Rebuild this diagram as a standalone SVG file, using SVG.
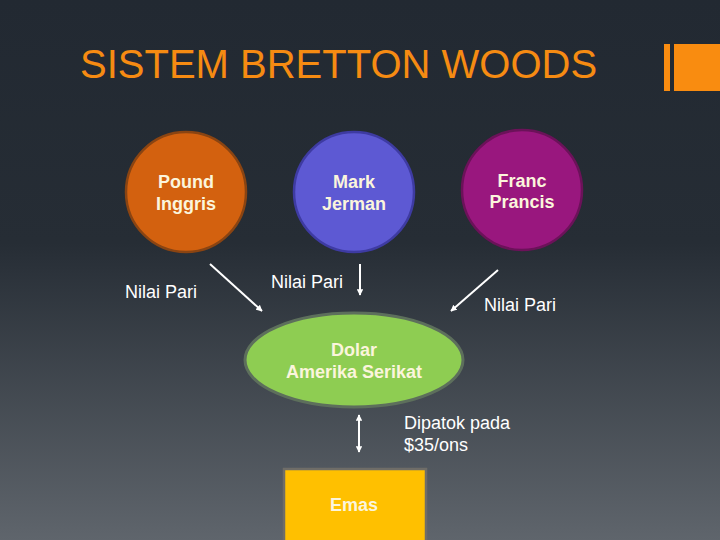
<svg xmlns="http://www.w3.org/2000/svg" width="720" height="540" viewBox="0 0 720 540">
<defs>
<linearGradient id="bg" x1="0" y1="0" x2="0" y2="1">
<stop offset="0" stop-color="#222932"/>
<stop offset="0.45" stop-color="#262d35"/>
<stop offset="1" stop-color="#5f656c"/>
</linearGradient>
<marker id="ah" viewBox="0 0 10 10" refX="9" refY="5" markerWidth="3.2" markerHeight="3.2" orient="auto-start-reverse">
<path d="M0,0 L10,5 L0,10 z" fill="#ffffff"/>
</marker>
<style>
.node{font-family:"Liberation Sans",Arial,sans-serif;font-weight:bold;font-size:18px;fill:#fbf5dc;text-anchor:middle}
.lbl{font-family:"Liberation Sans",Arial,sans-serif;font-size:18px;fill:#ffffff}
.conn{stroke:#ffffff;stroke-width:2;fill:none;marker-end:url(#ah)}
</style>
</defs>
<rect width="720" height="540" fill="url(#bg)"/>
<text x="80" y="78" font-family="'Liberation Sans',Arial,sans-serif" font-size="40" fill="#f68b12">SISTEM BRETTON WOODS</text>
<rect x="664" y="44" width="6" height="47" fill="#f98c10"/>
<rect x="674" y="44" width="46" height="47" fill="#f98c10"/>
<g id="pound">
<circle cx="186" cy="192" r="60" fill="#d3610f" stroke="#8a4412" stroke-width="2.5"/>
<text class="node" x="186" y="188">Pound</text>
<text class="node" x="186" y="210">Inggris</text>
</g>
<g id="mark">
<circle cx="354" cy="192" r="60" fill="#5d59d3" stroke="#3e3ba2" stroke-width="2.5"/>
<text class="node" x="354" y="188">Mark</text>
<text class="node" x="354" y="210">Jerman</text>
</g>
<g id="franc">
<circle cx="522" cy="190" r="60" fill="#99177e" stroke="#6b1259" stroke-width="2.5"/>
<text class="node" x="522" y="187">Franc</text>
<text class="node" x="522" y="208">Prancis</text>
</g>
<g id="dolar">
<ellipse cx="354" cy="360" rx="109" ry="47" fill="#8ecd52" stroke="#5d6f5c" stroke-width="3"/>
<text class="node" x="354" y="356">Dolar</text>
<text class="node" x="354" y="378">Amerika Serikat</text>
</g>
<g id="emas">
<rect x="284" y="469" width="142" height="75" fill="#ffc000" stroke="#6f6d68" stroke-width="2.5"/>
<text class="node" x="354" y="511">Emas</text>
</g>
<g id="connectors">
<line class="conn" x1="210" y1="264" x2="262" y2="311"/>
<line class="conn" x1="360" y1="264" x2="360" y2="295"/>
<line class="conn" x1="498" y1="270" x2="451" y2="311"/>
<line class="conn" x1="359" y1="415" x2="359" y2="452" style="marker-start:url(#ah)"/>
</g>
<g id="labels">
<text class="lbl" x="125" y="298">Nilai Pari</text>
<text class="lbl" x="271" y="288">Nilai Pari</text>
<text class="lbl" x="484" y="311">Nilai Pari</text>
<text class="lbl" x="404" y="429">Dipatok pada</text>
<text class="lbl" x="404" y="451">$35/ons</text>
</g>
</svg>
